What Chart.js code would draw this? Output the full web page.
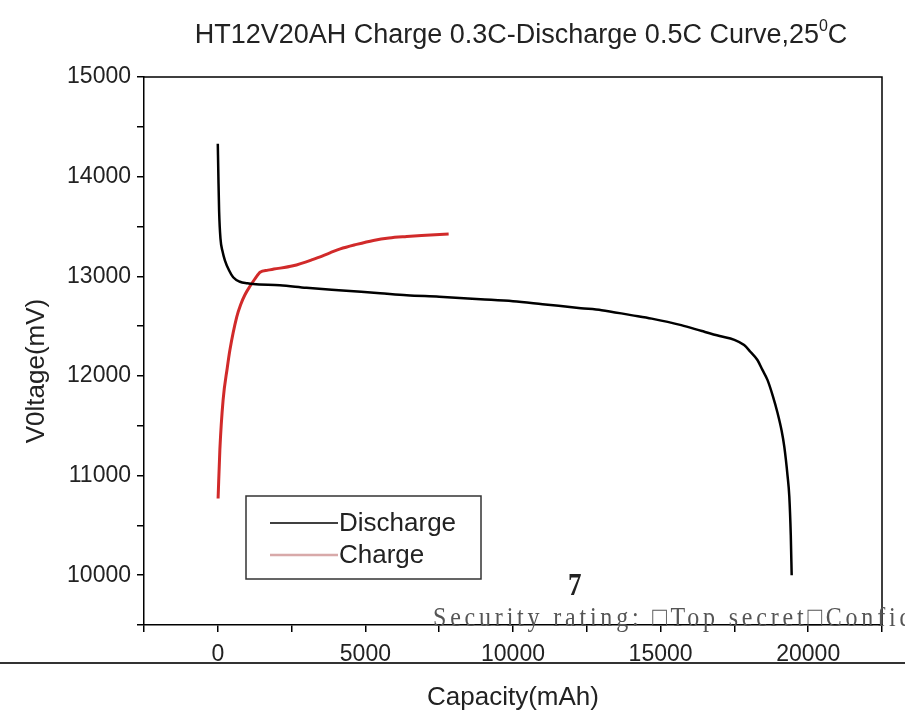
<!DOCTYPE html>
<html>
<head>
<meta charset="utf-8">
<title>HT12V20AH Charge/Discharge Curve</title>
<script src="https://cdn.jsdelivr.net/npm/chart.js@4"></script>
<style>
  html, body { margin:0; padding:0; background:#fff; }
  #wrap { position:relative; width:905px; height:711px; overflow:hidden; }
  #chart { position:absolute; left:0; top:0; }
  .rule { position:absolute; left:0; top:662px; width:905px; height:2px; background:#333; }
  .page { position:absolute; left:568px; top:566px; font:bold 27px "Liberation Serif", serif; color:#222; transform:scaleY(1.2); transform-origin:left top; }
  .secu { position:absolute; left:433px; top:602px; font:24px "Liberation Serif", serif; letter-spacing:3.8px; color:#555; white-space:nowrap; transform:scaleY(1.15); transform-origin:left top; }
</style>
</head>
<body>
<div id="wrap">
  <canvas id="chart" width="905" height="711"></canvas>
  <div class="page">7</div>
  <div class="secu">Security rating: □Top secret□Confidential</div>
  <div class="rule"></div>
</div>
<script>
/* ===== data ===== */
const SERIES   = ["Discharge", "Charge"];
const DIS_CAP  = [0, 20, 45, 90, 160, 240, 380, 520, 750, 1000, 1200, 2100, 3000, 4100, 5500, 6400, 7500, 8900, 10000, 11000, 12300, 13000, 14000, 14700, 15700, 16400, 17000, 17500, 17830, 18050, 18280, 18450, 18620, 18800, 18960, 19100, 19190, 19300, 19360, 19410, 19440];
const DIS_MV   = [14330, 14000, 13650, 13380, 13250, 13160, 13060, 12990, 12945, 12930, 12922, 12910, 12885, 12860, 12830, 12810, 12795, 12770, 12750, 12720, 12680, 12660, 12610, 12575, 12510, 12450, 12400, 12362, 12310, 12240, 12160, 12060, 11960, 11800, 11630, 11450, 11290, 11000, 10790, 10400, 10000];
const CHG_CAP  = [10, 70, 180, 320, 410, 640, 780, 920, 1090, 1260, 1370, 1430, 1700, 1900, 2550, 3230, 3800, 4150, 4700, 5270, 5800, 6400, 6900, 7820];
const CHG_MV   = [10770, 11260, 11760, 12080, 12260, 12590, 12720, 12815, 12900, 12975, 13020, 13040, 13062, 13072, 13105, 13170, 13235, 13275, 13320, 13360, 13385, 13400, 13410, 13425];
const X_LABELS = [0, 5000, 10000, 15000, 20000];
const Y_LABELS = [10000, 11000, 12000, 13000, 14000, 15000];

const FONT = "Liberation Sans";
const INK = "#222";

// legend colours differ a bit from the curves (charge swatch is faded in the original)
const LEGEND_COLORS = ["#000", "#d8a9a9"];

// box round the plot (top + right sides)
const frame = {
  id: "frame",
  afterDraw(chart){
    const {ctx, chartArea:a} = chart;
    ctx.save();
    ctx.strokeStyle = "#000"; ctx.lineWidth = 1.5;
    ctx.beginPath();
    ctx.moveTo(a.left, a.top); ctx.lineTo(a.right, a.top); ctx.lineTo(a.right, a.bottom);
    ctx.stroke();
    ctx.restore();
  }
};

// title with a superscript 0, and the y-axis title
const texts = {
  id: "texts",
  afterDraw(chart){
    const {ctx, chartArea:a} = chart;
    ctx.save();
    ctx.fillStyle = INK;
    ctx.textBaseline = "alphabetic";
    const big = "27px " + FONT, small = "16px " + FONT;
    const p1 = "HT12V20AH Charge 0.3C-Discharge 0.5C Curve,25", sup = "0", p3 = "C";
    ctx.font = big;   const w1 = ctx.measureText(p1).width, w3 = ctx.measureText(p3).width;
    ctx.font = small; const w2 = ctx.measureText(sup).width;
    let x = (a.left + a.right) / 2 + 8 - (w1 + w2 + w3) / 2;
    const y = 43;
    ctx.font = big;   ctx.fillText(p1, x, y); x += w1;
    ctx.font = small; ctx.fillText(sup, x, y - 12); x += w2;
    ctx.font = big;   ctx.fillText(p3, x, y);

    ctx.translate(37, 371);
    ctx.rotate(-Math.PI / 2);
    ctx.textAlign = "center"; ctx.textBaseline = "middle";
    ctx.font = "26px " + FONT;
    ctx.fillText("V0ltage(mV)", 0, 0);
    ctx.restore();
  }
};

// legend box sitting inside the plot
const legendBox = {
  id: "legendBox",
  afterDraw(chart){
    const {ctx, chartArea:a} = chart;
    const bx = a.left + 102, by = a.top + 419, bw = 235, bh = 83;
    ctx.save();
    ctx.strokeStyle = "#333"; ctx.lineWidth = 1.5;
    ctx.strokeRect(bx, by, bw, bh);
    ctx.font = "26px " + FONT; ctx.fillStyle = INK; ctx.textBaseline = "middle";
    chart.data.datasets.forEach((d, i) => {
      const ly = by + 27 + i * 32;
      ctx.strokeStyle = LEGEND_COLORS[i]; ctx.lineWidth = i ? 2.5 : 1.5;
      ctx.beginPath(); ctx.moveTo(bx + 24, ly); ctx.lineTo(bx + 92, ly); ctx.stroke();
      ctx.fillText(d.label, bx + 93, ly + 1);
    });
    ctx.restore();
  }
};

const pts = (xs, ys) => xs.map((x, i) => ({x, y: ys[i]}));

new Chart(document.getElementById("chart"), {
  type: "line",
  data: {
    datasets: [
      { label: SERIES[0], data: pts(DIS_CAP, DIS_MV), borderColor: "#000", borderWidth: 2.5, pointRadius: 0, cubicInterpolationMode: "monotone" },
      { label: SERIES[1], data: pts(CHG_CAP, CHG_MV), borderColor: "#d12a2a", borderWidth: 3, pointRadius: 0, cubicInterpolationMode: "monotone" }
    ]
  },
  options: {
    responsive: false,
    animation: false,
    layout: { padding: { left: 0, right: 23, top: 77, bottom: 0 } },
    plugins: { legend: { display: false }, title: { display: false }, tooltip: { enabled: false } },
    scales: {
      x: {
        type: "linear", min: -2500, max: 22500,
        ticks: { stepSize: 2500, autoSkip: false, maxRotation: 0, padding: 9, color: INK,
                 font: { family: FONT, size: 23 },
                 callback: v => X_LABELS.includes(v) ? String(v) : "" },
        grid: { drawOnChartArea: false, tickLength: 7, color: "#000", lineWidth: 1.5 },
        border: { color: "#000", width: 1.5 },
        title: { display: true, text: "Capacity(mAh)", color: INK, font: { family: FONT, size: 26, lineHeight: 1.05 }, padding: { top: 0, bottom: 0 } },
        afterFit: s => { s.height = 86; }
      },
      y: {
        min: 9500, max: 15000,
        ticks: { stepSize: 500, autoSkip: false, padding: 6, color: INK,
                 font: { family: FONT, size: 23 },
                 callback: v => Y_LABELS.includes(v) ? String(v) : "" },
        grid: { drawOnChartArea: false, tickLength: 7, color: "#000", lineWidth: 1.5 },
        border: { color: "#000", width: 1.5 },
        afterFit: s => { s.width = 144; }
      }
    }
  },
  plugins: [frame, texts, legendBox]
});
</script>
</body>
</html>
